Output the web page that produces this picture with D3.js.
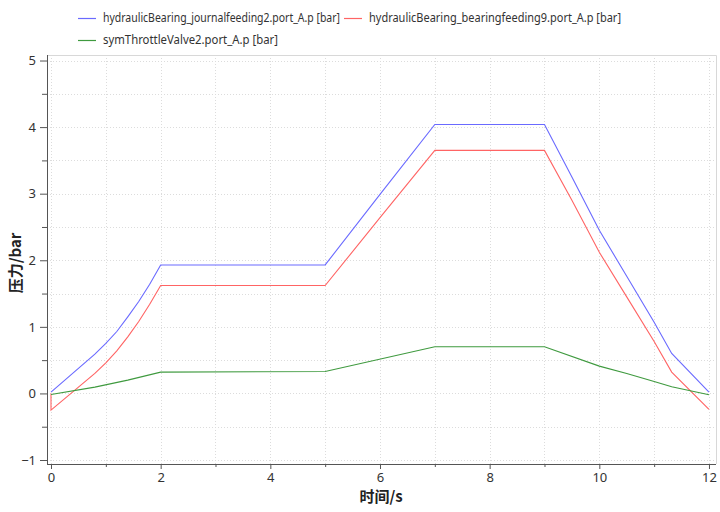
<!DOCTYPE html>
<html>
  <head>
    <meta charset="utf-8" />
    <title>压力曲线</title>
    <style>
      body { margin: 0; background: #fff; }
      svg text { font-family: "Noto Sans CJK SC", "Noto Sans", sans-serif; fill: #222; }
      .grid line { stroke: #dcdcdc; stroke-dasharray: 1,2; }
      .axis path, .axis line { stroke: #555; }
    </style>
  </head>
  <body>
    <div id="chart"></div>
    <script src="https://d3js.org/d3.v7.min.js"></script>
    <script>
      // series names
      var seriesNames = [
        "hydraulicBearing_journalfeeding2.port_A.p [bar]",
        "hydraulicBearing_bearingfeeding9.port_A.p [bar]",
        "symThrottleValve2.port_A.p [bar]"
      ];
      var seriesColors = ["#6a6aff", "#ff6464", "#3f9a3f"];

      // time points and values
      var journalT = [0, 0.8, 1.0, 1.2, 1.4, 1.6, 1.8, 2, 5, 6, 7, 9, 9.5, 10, 10.5, 11, 11.32, 12];
      var journalP = [0.02, 0.59, 0.75, 0.93, 1.15, 1.38, 1.64, 1.93, 1.93, 2.99, 4.04, 4.04, 3.25, 2.45, 1.76, 1.07, 0.6, 0.02];

      var bearingT = [0, 0, 0.8, 1.0, 1.2, 1.4, 1.6, 1.8, 2, 5, 6, 7, 9, 9.5, 10, 10.5, 11, 11.32, 12];
      var bearingP = [0, -0.25, 0.3, 0.46, 0.64, 0.85, 1.08, 1.34, 1.62, 1.62, 2.64, 3.65, 3.65, 2.9, 2.12, 1.45, 0.78, 0.32, -0.24];

      var throttleT = [0, 0.8, 1.4, 2, 5, 7, 9, 10, 10.5, 11, 11.32, 12];
      var throttleP = [-0.015, 0.095, 0.2, 0.32, 0.33, 0.7, 0.7, 0.41, 0.3, 0.18, 0.1, -0.02];

      var xMajor = [0, 2, 4, 6, 8, 10, 12];
      var xMinor = [1, 3, 5, 7, 9, 11];
      var yMajor = [-1, 0, 1, 2, 3, 4, 5];
      var yMinor = [-0.5, 0.5, 1.5, 2.5, 3.5, 4.5];

      var W = 720, H = 512;
      var pLeft = 47, pRight = 716, pTop = 55, pBottom = 464;

      var svg = d3.select("#chart").append("svg")
        .attr("width", W).attr("height", H);

      var x = d3.scaleLinear().domain([-0.073, 12.128]).range([pLeft, pRight]);
      var y = d3.scaleLinear().domain([-1.06, 5.083]).range([pBottom, pTop]);

      // grid
      var grid = svg.append("g").attr("class", "grid");
      grid.selectAll("line.v").data(xMajor.concat(xMinor)).enter().append("line")
        .attr("x1", d => Math.round(x(d)) + 0.5).attr("x2", d => Math.round(x(d)) + 0.5)
        .attr("y1", pTop).attr("y2", pBottom);
      grid.selectAll("line.h").data(yMajor.concat(yMinor)).enter().append("line")
        .attr("y1", d => Math.round(y(d)) + 0.5).attr("y2", d => Math.round(y(d)) + 0.5)
        .attr("x1", pLeft).attr("x2", pRight);

      // frame top/right
      svg.append("path")
        .attr("d", "M" + pLeft + "," + (pTop + 0.5) + "H" + (pRight + 0.5) + "V" + pBottom)
        .attr("fill", "none").attr("stroke", "#d8d8d8");

      // axes
      var xAxis = svg.append("g").attr("class", "axis")
        .attr("transform", "translate(0," + pBottom + ")")
        .call(d3.axisBottom(x).tickValues(xMajor).tickFormat(d3.format("d"))
          .tickSize(5).tickSizeOuter(0).tickPadding(4));
      xAxis.append("g").selectAll("line").data(xMinor).enter().append("line")
        .attr("x1", d => x(d) + 0.5).attr("x2", d => x(d) + 0.5)
        .attr("y1", 0).attr("y2", 3).attr("stroke", "#555");
      xAxis.select(".domain").attr("d", "M" + pLeft + ",0.5H" + pRight);

      var yAxis = svg.append("g").attr("class", "axis")
        .attr("transform", "translate(" + pLeft + ",0)")
        .call(d3.axisLeft(y).tickValues(yMajor).tickFormat(d3.format("d"))
          .tickSize(7).tickSizeOuter(0).tickPadding(4));
      yAxis.append("g").selectAll("line").data(yMinor).enter().append("line")
        .attr("y1", d => y(d) + 0.5).attr("y2", d => y(d) + 0.5)
        .attr("x1", 0).attr("x2", -5).attr("stroke", "#555");
      yAxis.select(".domain").attr("d", "M0.5," + pTop + "V" + pBottom);

      svg.selectAll(".axis text")
        .style("font-family", "'Noto Sans', sans-serif")
        .style("font-size", "13px").style("fill", "#333");

      // lines
      var series = [
        { t: journalT, p: journalP },
        { t: bearingT, p: bearingP },
        { t: throttleT, p: throttleP }
      ];
      var line = d3.line().x(d => x(d[0])).y(d => y(d[1]));
      series.forEach(function (s, i) {
        var pts = s.t.map((t, j) => [t, s.p[j]]);
        svg.append("path").datum(pts)
          .attr("d", line)
          .attr("fill", "none")
          .attr("stroke", seriesColors[i])
          .attr("stroke-width", 1.1);
      });

      // axis titles
      svg.append("text")
        .attr("x", 381).attr("y", 502)
        .attr("text-anchor", "middle")
        .style("font-size", "15px").style("font-weight", "bold")
        .text("时间/s");
      svg.append("text")
        .attr("transform", "translate(21,263) rotate(-90)")
        .attr("text-anchor", "middle")
        .style("font-size", "15px").style("font-weight", "bold")
        .text("压力/bar");

      // legend
      var legendPos = [[78, 18, 237], [344, 18, 252], [78, 40, 175]];
      seriesNames.forEach(function (name, i) {
        var p = legendPos[i];
        svg.append("line")
          .attr("x1", p[0]).attr("x2", p[0] + 18)
          .attr("y1", p[1] + 0.5).attr("y2", p[1] + 0.5)
          .attr("stroke", seriesColors[i]).attr("stroke-width", 1.2);
        svg.append("text")
          .attr("x", p[0] + 25).attr("y", p[1] + 4)
          .attr("textLength", p[2]).attr("lengthAdjust", "spacingAndGlyphs")
          .style("font-family", "'Noto Sans', sans-serif")
          .style("font-size", "12px").style("fill", "#333")
          .text(name);
      });
    </script>
  </body>
</html>
